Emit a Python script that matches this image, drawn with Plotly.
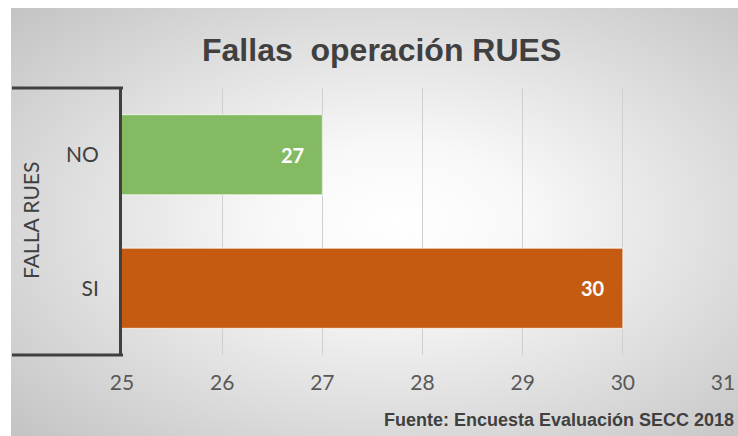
import base64
import plotly.graph_objects as go

# ---- data ----
categories = ["SI", "NO"]
values = [30, 27]
bar_colors = ["#c55a11", "#84bb62"]
x_ticks = [25, 26, 27, 28, 29, 30, 31]
title_text = "Fallas  operación RUES"
axis_title = "FALLA RUES"
source_text = "Fuente: Encuesta Evaluación SECC 2018"

# ---- geometry (pixels) ----
W, H = 738, 436
L, R, T, B = 122, 15, 88, 81
PW, PH = W - L - R, H - T - B


def px(x):
    return (x - L) / PW


def py(y):
    return (H - B - y) / PH


svg = (
    f'<svg xmlns="http://www.w3.org/2000/svg" width="727" height="428">'
    '<defs><radialGradient id="g" cx="0.53" cy="0.5" r="0.72">'
    '<stop offset="0" stop-color="#ffffff"/>'
    '<stop offset="0.25" stop-color="#f8f8f8"/>'
    '<stop offset="1" stop-color="#c4c4c4"/>'
    '</radialGradient></defs>'
    '<rect x="0" y="0" width="727" height="428" fill="url(#g)"/></svg>'
)
src = "data:image/svg+xml;base64," + base64.b64encode(svg.encode()).decode()

fig = go.Figure()
fig.add_trace(go.Bar(
    y=categories, x=values, orientation="h",
    marker=dict(color=bar_colors, line=dict(color="rgba(255,255,255,0.7)", width=1)),
    cliponaxis=True, hoverinfo="skip",
))

label_annotations = [
    dict(text=f"<b>{v}</b>", x=v, y=c, xref="x", yref="y", xanchor="right",
         yanchor="middle", xshift=-16, showarrow=False,
         font=dict(family="Lato", size=20, color="white"))
    for c, v in zip(categories, values)
]

fig.update_layout(
    width=W, height=H,
    margin=dict(l=L, r=R, t=T, b=B, autoexpand=False),
    paper_bgcolor="white", plot_bgcolor="rgba(0,0,0,0)",
    bargap=0.4, showlegend=False,
    images=[dict(source=src, xref="paper", yref="paper",
                 x=px(11), y=py(8), sizex=727 / PW, sizey=428 / PH,
                 sizing="stretch", layer="below", xanchor="left", yanchor="top")],
    xaxis=dict(range=[25, 31], tickvals=x_ticks, showgrid=True, gridcolor="#cfcfcf",
               gridwidth=1, zeroline=False, showline=False, ticks="",
               ticklabelstandoff=13, automargin=False,
               tickfont=dict(family="Lato", size=21, color="#595959")),
    yaxis=dict(categoryorder="array", categoryarray=categories, showline=True,
               linecolor="#404040", linewidth=3, ticks="", showgrid=False,
               ticklabelstandoff=16, automargin=False,
               tickfont=dict(family="Lato", size=21, color="#404040")),
    shapes=[
        dict(type="line", xref="paper", yref="paper", x0=px(12), x1=px(123),
             y0=py(88), y1=py(88), line=dict(color="#404040", width=3)),
        dict(type="line", xref="paper", yref="paper", x0=px(12), x1=px(123),
             y0=py(355), y1=py(355), line=dict(color="#404040", width=3)),
    ],
    annotations=label_annotations + [
        dict(text=f"<b>{title_text}</b>", xref="paper", yref="paper",
             x=px(381), y=py(50), showarrow=False, xanchor="center", yanchor="middle",
             font=dict(family="Liberation Sans", size=32, color="#404040")),
        dict(text=axis_title, xref="paper", yref="paper", x=px(30), y=py(221),
             textangle=-90, showarrow=False, xanchor="center", yanchor="middle",
             font=dict(family="Lato", size=21, color="#404040")),
        dict(text=f"<b>{source_text}</b>", xref="paper", yref="paper",
             x=px(736), y=py(420), showarrow=False, xanchor="right", yanchor="middle",
             font=dict(family="Liberation Sans", size=18, color="#404040")),
    ],
)

fig.write_html("out.html", config={"displayModeBar": False},
               post_script="document.body.style.margin='0px';document.body.style.overflow='hidden';")
